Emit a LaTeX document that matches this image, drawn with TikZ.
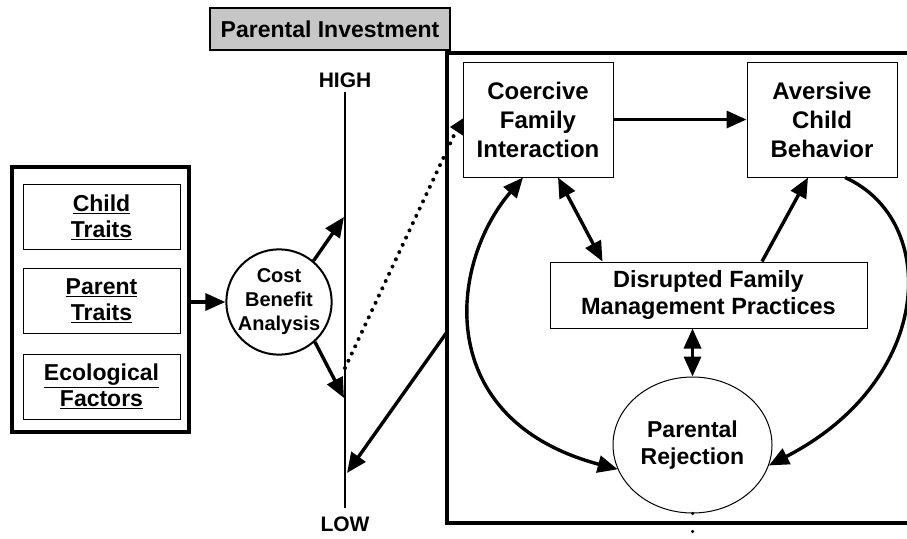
\documentclass[tikz,border=0pt]{standalone}
\usepackage{fontspec}
\setmainfont{Liberation Sans}
\usepackage{tikz}
\usetikzlibrary{arrows.meta,positioning,calc,shapes.geometric}

\begin{document}
\begin{tikzpicture}[x=1pt, y=-1pt, >={Triangle[length=20pt,width=17pt]},
  box/.style={draw, line width=1pt, align=center, inner sep=2pt,
    font=\fontsize{24}{29}\selectfont\bfseries},
  trait/.style={draw, line width=0.8pt, align=center, minimum width=157pt,
    minimum height=65pt, font=\fontsize{23}{26}\selectfont\bfseries},
  axlbl/.style={font=\fontsize{21}{24}\selectfont\bfseries},
  arr/.style={->, line width=3.4pt},
  darr/.style={<->, line width=3.4pt},
  dots/.style={line cap=round, dash pattern=on 0pt off 8pt}]
\useasboundingbox (0,0) rectangle (907,538);
\node[draw, line width=2.5pt, fill=gray!45, minimum width=240pt, minimum height=42pt,
  font=\fontsize{23}{26}\selectfont\bfseries] (title) at (330,29) {Parental Investment};
% left block of traits
\node[draw, line width=3.6pt, minimum width=177pt, minimum height=265pt] (traits) at (100.5,299.5) {};
\node[trait] (child) at (101.5,217) {\underline{Child}\\\underline{Traits}};
\node[trait, below=18pt of child] (parent) {\underline{Parent}\\\underline{Traits}};
\node[trait, below=20pt of parent] (eco) {\underline{Ecological}\\\underline{Factors}};
\node[circle, draw, line width=2pt, minimum size=103pt, inner sep=0pt, align=center,
  font=\fontsize{20}{24}\selectfont\bfseries] (cba) at (279,302) {Cost\\Benefit\\Analysis};
% investment axis
\coordinate (hi) at (345,92);
\coordinate (lo) at (345,508);
\draw[line width=2.6pt] (hi) -- (lo);
\node[axlbl, above=1pt of hi] (high) {HIGH};
\node[axlbl, below=5pt of lo] (low) {LOW};
\coordinate (up) at (344,217);
\coordinate (dn) at (344,398);
\coordinate (dot) at (345,368);
\coordinate (back) at (347,473);
% the family frame
\coordinate (fl) at (447,332);
\draw[line width=3.6pt] (907,53) -- (447,53) -- (447,523) -- (907,523);
\node[box, minimum width=150pt, minimum height=115pt] (coer) at (538,119.5) {Coercive\\Family\\Interaction};
\node[box, minimum width=150pt, minimum height=115pt] (aver) at (822,119.5) {Aversive\\Child\\Behavior};
\node[box, minimum width=317pt, minimum height=66pt, font=\fontsize{23.5}{27}\selectfont\bfseries]
  (disr) at (708.5,295) {Disrupted Family\\Management Practices};
\node[ellipse, draw, line width=1pt, minimum width=159pt, minimum height=136pt, align=center,
  font=\fontsize{23}{27}\selectfont\bfseries] (rej) at (692.5,445) {Parental\\Rejection};
\coordinate (dotend) at (456,131);
\coordinate (tip) at (450,127);
\coordinate (bot) at (692.5,538);
\draw[arr] (traits.east |- cba) -- (cba.west);
\draw[arr] (cba.50) -- (up);
\draw[arr] (cba.-48) -- (dn);
\draw[dots, line width=4pt] (dot) -- (dotend);
\draw[-{Triangle[length=13pt,width=17pt]}, line width=0.5pt] (coer.west |- tip) -- (tip);
\draw[arr] (fl) -- (back);
\draw[arr] (coer.east) -- (aver.west);
\draw[darr] ($(coer.south)+(20,0)$) -- ($(disr.north west)+(53,0)$);
\draw[arr] ($(disr.north)+(53.5,0)$) -- ($(aver.south)+(-14,0)$);
\draw[darr] (rej.north |- disr.south) -- (rej.north);
\draw[darr] ($(coer.south)+(-15,0)$) .. controls (448,265) and (433,420) .. (rej.198);
\draw[arr] ($(aver.south)+(23,0)$) .. controls (940,220) and (935,380) .. (rej.345);
\draw[dots, line width=3.5pt, dash pattern=on 0pt off 9pt] (rej.south) -- (bot);
\end{tikzpicture}
\end{document}
